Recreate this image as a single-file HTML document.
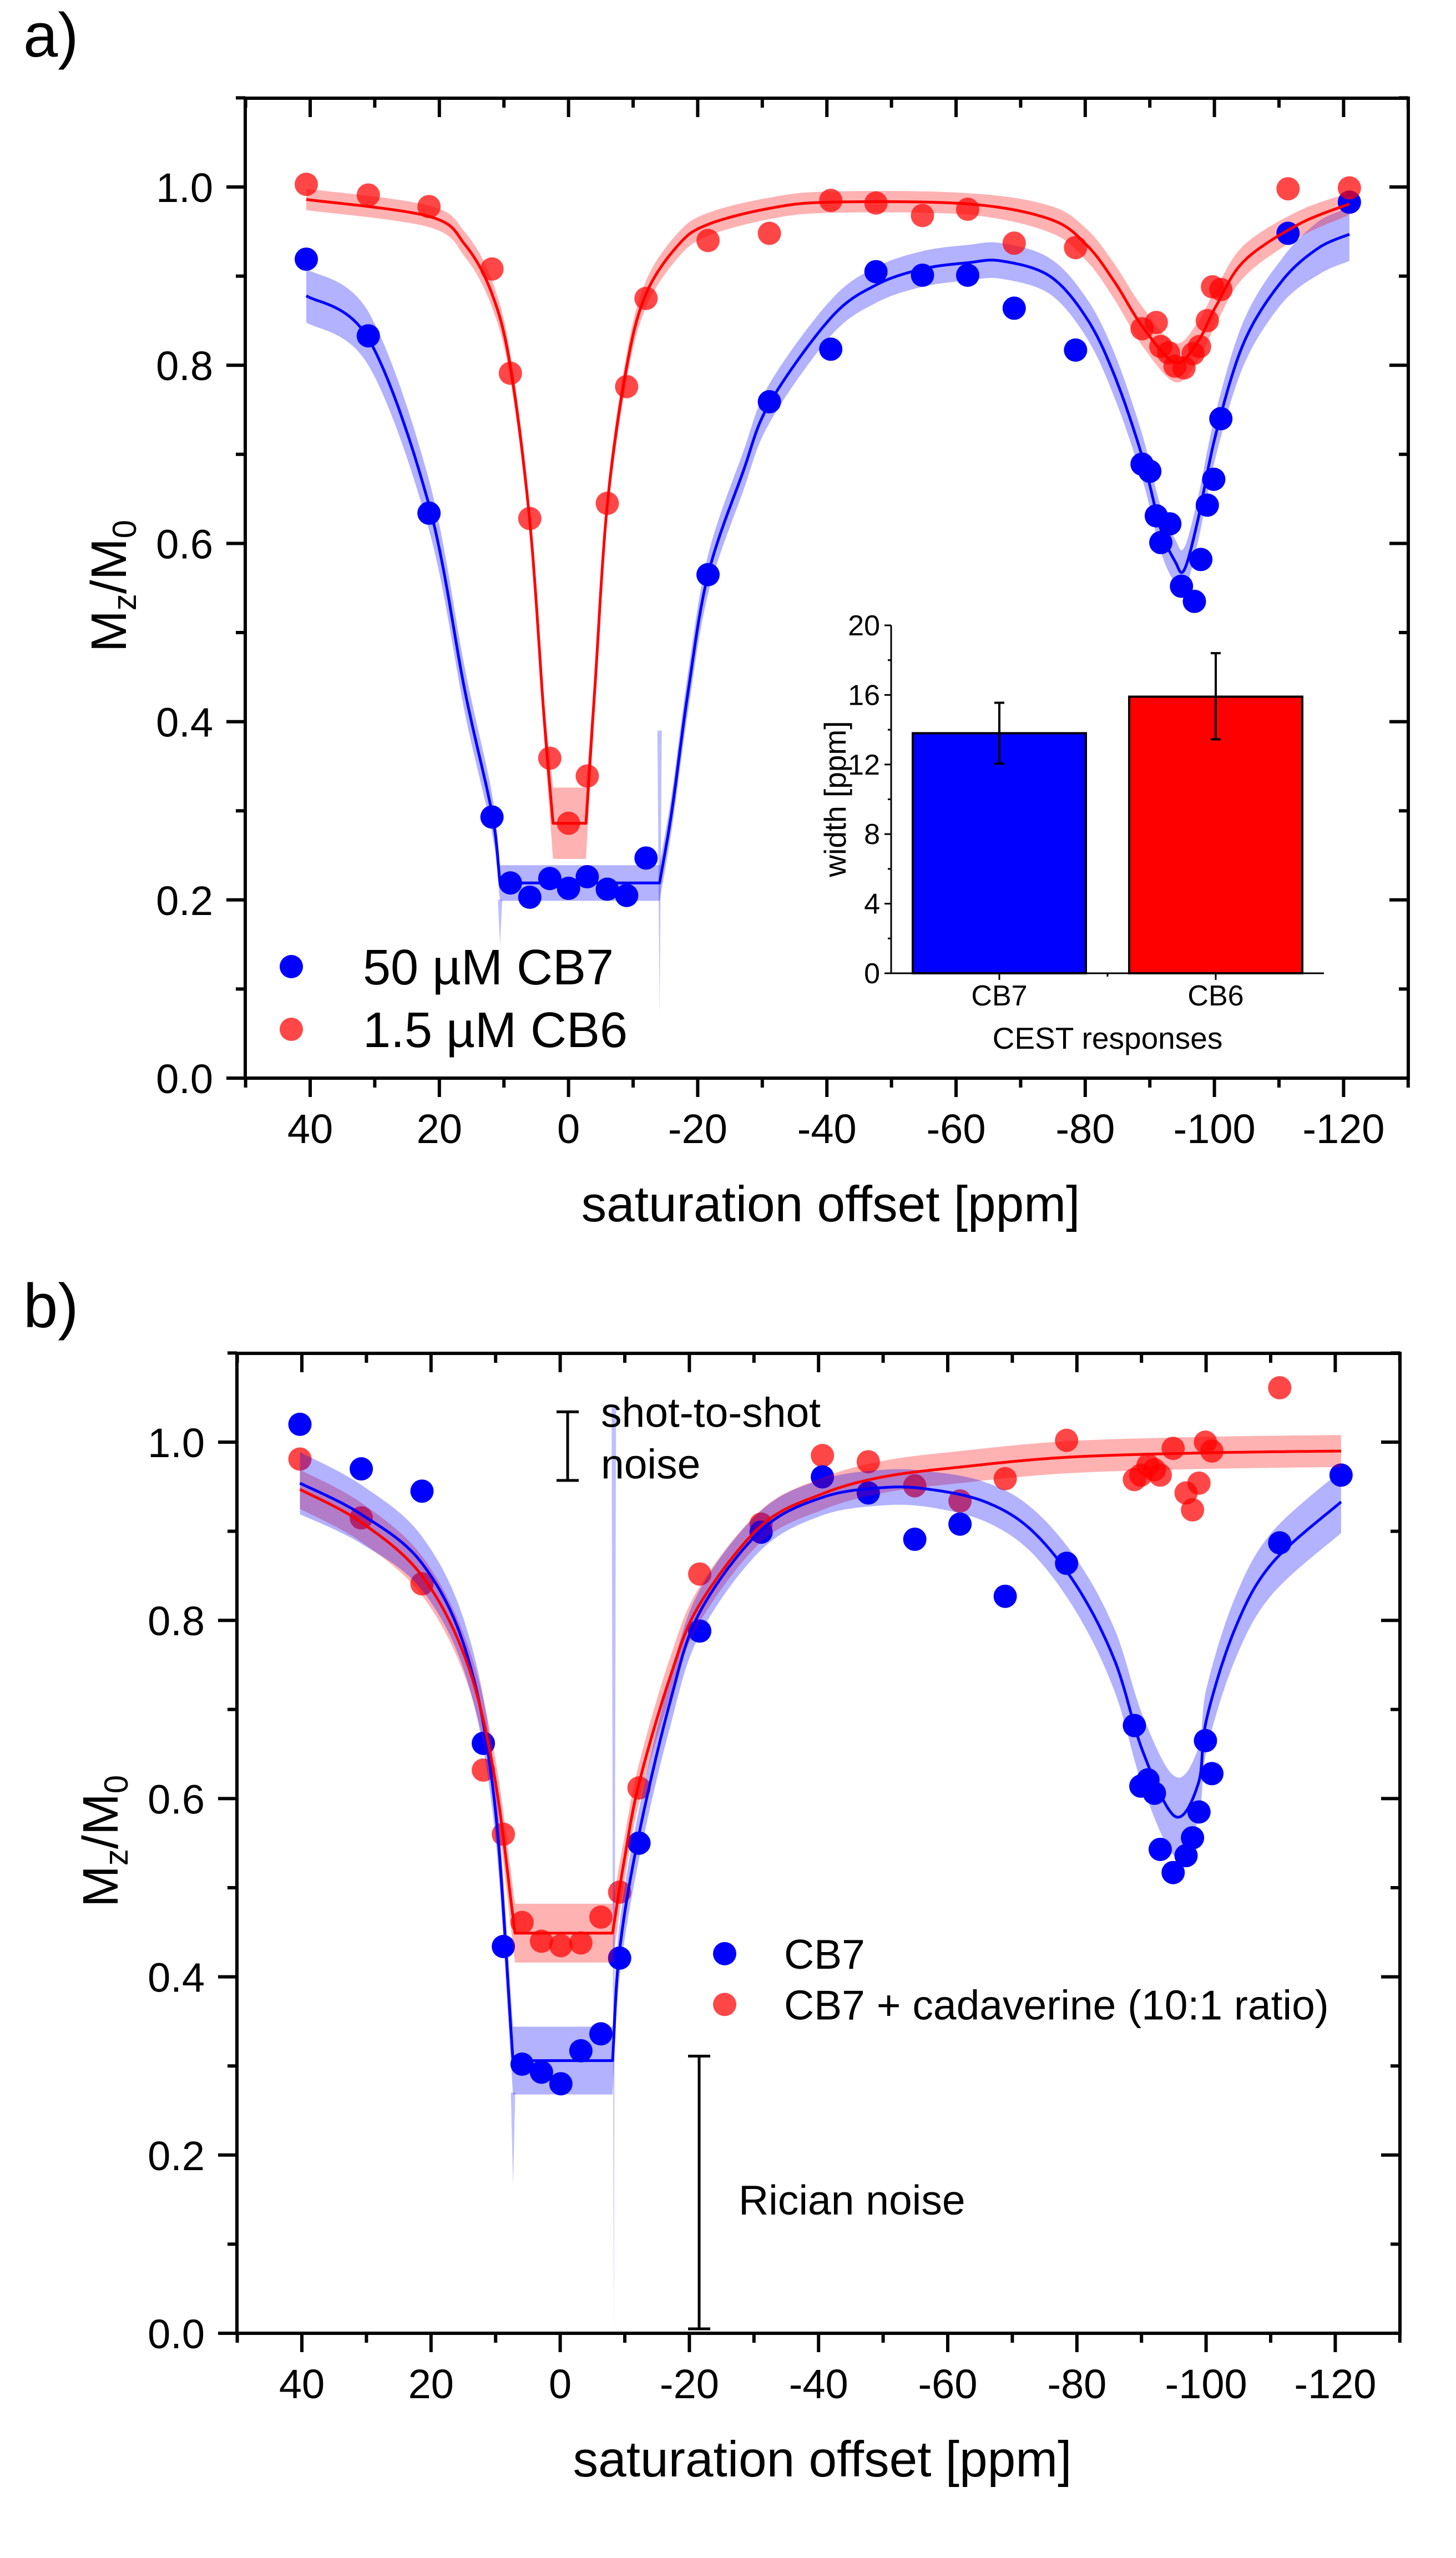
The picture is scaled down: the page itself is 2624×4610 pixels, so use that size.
<!DOCTYPE html>
<html><head><meta charset="utf-8">
<style>
html,body{margin:0;padding:0;background:#fff;}
svg{display:block;font-family:"Liberation Sans",Arial,sans-serif;}
</style></head>
<body>
<svg id="fig" xmlns="http://www.w3.org/2000/svg" width="2624" height="4610" viewBox="0 0 2624 4610">
<rect x="0" y="0" width="2624" height="4610" fill="#fff"/>
<text x="42" y="102" font-size="112">a)</text>
<text x="42" y="2392" font-size="112">b)</text>
</svg>
<script>
// ---------- Panel a data ----------
const aRedX=[40.6,31,21.6,11.85,9,6,2.9,0,-2.9,-6,-9,-12,-21.6,-31.1,-40.6,-47.6,-54.8,-61.8,-69,-78.5,-88.8,-91,-91.7,-92.9,-93.9,-95.3,-96.7,-97.7,-98.9,-99.7,-101,-111.4,-120.9];
const aRedY=[1.003,0.991,0.978,0.908,0.791,0.628,0.359,0.286,0.339,0.645,0.776,0.875,0.94,0.948,0.985,0.982,0.968,0.975,0.937,0.932,0.841,0.848,0.821,0.814,0.799,0.797,0.813,0.821,0.85,0.888,0.885,0.998,0.999];
const aBlueX=[40.6,31,21.6,11.85,9,6,2.9,0,-2.9,-6,-9,-12,-21.6,-31.1,-40.6,-47.6,-54.8,-61.8,-69,-78.5,-88.8,-90,-91,-91.7,-93.1,-94.9,-96.9,-97.9,-98.9,-99.9,-101,-111.4,-120.9];
const aBlueY=[0.919,0.833,0.634,0.293,0.219,0.203,0.224,0.213,0.226,0.212,0.205,0.247,0.565,0.759,0.818,0.905,0.901,0.901,0.864,0.817,0.689,0.681,0.631,0.601,0.622,0.552,0.535,0.582,0.643,0.672,0.74,0.948,0.983];
// fit curves
const aBlueFitX=[40.6,31,21.6,16,11.85,10.6,-14.1,-16,-18.5,-21.6,-27,-31.1,-40.6,-47.6,-54.8,-61.8,-67,-74.5,-80.2,-84.5,-88.8,-91.7,-93.9,-95.3,-97.4,-100.3,-104.6,-110.4,-116,-120.9];
const aBlueFitY=[0.878,0.83,0.643,0.433,0.297,0.219,0.219,0.3,0.433,0.565,0.68,0.757,0.853,0.89,0.908,0.915,0.917,0.9,0.853,0.789,0.698,0.616,0.58,0.57,0.625,0.725,0.826,0.894,0.931,0.947];
const aBlueFitErr=[0.03,0.03,0.028,0.025,0.022,0.02,0.02,0.02,0.022,0.022,0.022,0.022,0.02,0.02,0.02,0.02,0.02,0.02,0.022,0.025,0.025,0.025,0.025,0.025,0.025,0.025,0.025,0.025,0.03,0.03];
const aRedFitX=[40.6,21.6,16,11.85,9,6,3.8,2.4,-2.7,-4.1,-6,-9,-12,-17,-21.6,-31.1,-40.6,-61.8,-74.5,-80.2,-84.5,-88.8,-93.9,-97.4,-100.3,-104.6,-113,-120.9];
const aRedFitY=[0.986,0.967,0.935,0.88,0.798,0.625,0.406,0.286,0.286,0.44,0.643,0.798,0.88,0.935,0.958,0.976,0.983,0.981,0.964,0.935,0.894,0.844,0.803,0.826,0.867,0.917,0.958,0.981];
const aRedFitErr=[0.012,0.012,0.014,0.015,0.015,0.015,0.02,0.04,0.04,0.02,0.015,0.015,0.015,0.014,0.013,0.012,0.012,0.012,0.015,0.018,0.02,0.022,0.022,0.022,0.02,0.018,0.015,0.012];
const aSpikeX=[10.6,-14.1];
const aSpikeTop=[0.2,0.39];
const aSpikeBottom=[0.15,0.07];
// inset
const insetCats=['CB7','CB6'];
const insetVals=[13.8,15.9];
const insetErrLo=[12.05,13.45];
const insetErrHi=[15.55,18.4];
const insetTicks=[0,4,8,12,16,20];

// ---------- Panel b data ----------
const bBlueX=[40.3,30.8,21.4,11.9,8.8,5.9,2.9,-0.1,-3.2,-6.3,-9.2,-12.2,-21.6,-31.1,-40.6,-47.7,-54.9,-61.9,-68.9,-78.4,-88.9,-89.9,-91,-92,-92.9,-94.9,-96.9,-97.9,-98.9,-99.9,-100.9,-111.4,-120.9];
const bBlueY=[1.02,0.97,0.945,0.662,0.434,0.302,0.293,0.28,0.317,0.336,0.421,0.55,0.788,0.899,0.961,0.943,0.891,0.908,0.827,0.864,0.682,0.614,0.621,0.606,0.543,0.517,0.536,0.556,0.585,0.665,0.628,0.887,0.963];
const bRedX=[40.3,30.8,21.4,11.9,8.8,5.9,2.9,-0.1,-3.2,-6.3,-9.2,-12.2,-21.6,-31.1,-40.6,-47.7,-54.9,-61.9,-68.9,-78.4,-88.9,-89.9,-91,-92,-92.9,-94.9,-96.9,-97.9,-98.9,-99.9,-100.9,-111.4];
const bRedY=[0.981,0.915,0.841,0.632,0.56,0.461,0.44,0.435,0.438,0.467,0.495,0.612,0.852,0.908,0.985,0.978,0.951,0.934,0.959,1.002,0.958,0.963,0.974,0.969,0.963,0.993,0.943,0.924,0.954,1.0,0.99,1.061];
const bBlueFitX=[40.3,30.8,21.4,14.5,10.2,7.3,-8.1,-9.2,-12.2,-17,-21.6,-31.1,-40.6,-50,-57.2,-65.8,-73,-80.1,-85.9,-90.2,-95.2,-98.8,-100.1,-104.5,-110.2,-120.9];
const bBlueFitY=[0.954,0.919,0.864,0.763,0.598,0.306,0.306,0.43,0.56,0.708,0.809,0.901,0.938,0.949,0.947,0.933,0.901,0.837,0.754,0.653,0.58,0.617,0.69,0.791,0.864,0.933];
const bBlueFitErr=[0.035,0.033,0.03,0.028,0.03,0.038,0.038,0.03,0.028,0.028,0.025,0.022,0.02,0.02,0.02,0.022,0.025,0.03,0.035,0.04,0.045,0.04,0.035,0.035,0.035,0.035];
const bRedFitX=[40.3,30.8,21.4,14.5,10.2,7.0,-8.1,-9.9,-12.2,-17,-21.6,-31.1,-40.6,-50,-61.9,-78.4,-100.1,-120.9];
const bRedFitY=[0.947,0.91,0.85,0.754,0.626,0.449,0.449,0.53,0.617,0.736,0.818,0.906,0.942,0.961,0.972,0.983,0.988,0.99];
const bRedFitErr=[0.022,0.022,0.022,0.022,0.025,0.033,0.033,0.025,0.022,0.022,0.02,0.018,0.018,0.018,0.018,0.018,0.018,0.018];
const bSpikeX=[7.3,-8.3];
const bSpikeTop=[0.27,1.04];
const bSpikeBottom=[0.167,0.0];

const xMajor=[40,20,0,-20,-40,-60,-80,-100,-120];
const xMinor=[50,30,10,-10,-30,-50,-70,-90,-110,-130];
const yMajor=[0,0.2,0.4,0.6,0.8,1.0];
const yMinor=[0.1,0.3,0.5,0.7,0.9,1.1];

const NS='http://www.w3.org/2000/svg';
const svg=document.getElementById('fig');
function el(tag,attrs,parent){const e=document.createElementNS(NS,tag);for(const k in attrs)e.setAttribute(k,attrs[k]);(parent||svg).appendChild(e);return e;}

function makePanel(P){
  const sx=v=>P.x40+(40-v)*11.64;
  const sy=v=>P.bottom-v*1606;
  P.sx=sx;P.sy=sy;
  const g=el('g',{});
  
  
  return g;
}

function spline(xs,ys,errs,sx,sy){
  const p=xs.map((x,i)=>[sx(x),sy(ys[i])]);
  const isFlat=i=>i>=0&&i<ys.length-1&&Math.abs(ys[i]-ys[i+1])<1e-9;
  const out=[];
  for(let i=0;i<p.length-1;i++){
    const p0=p[i-1]||p[i],p1=p[i],p2=p[i+1],p3=p[i+2]||p[i+1];
    let c1,c2;
    if(isFlat(i)){c1=p1;c2=p2;}
    else{
      c1=isFlat(i-1)?[p1[0]+(p2[0]-p1[0])/3,p1[1]+(p2[1]-p1[1])/3]:[p1[0]+(p2[0]-p0[0])/6,p1[1]+(p2[1]-p0[1])/6];
      c2=isFlat(i+1)?[p2[0]-(p2[0]-p1[0])/3,p2[1]-(p2[1]-p1[1])/3]:[p2[0]-(p3[0]-p1[0])/6,p2[1]-(p3[1]-p1[1])/6];
    }
    const N=24;
    for(let k=(i===0?0:1);k<=N;k++){
      const t=k/N,u=1-t;
      const x=u*u*u*p1[0]+3*u*u*t*c1[0]+3*u*t*t*c2[0]+t*t*t*p2[0];
      const y=u*u*u*p1[1]+3*u*u*t*c1[1]+3*u*t*t*c2[1]+t*t*t*p2[1];
      const e=(errs[i]*(1-t)+errs[i+1]*t)*1606;
      out.push([x,y,e]);
    }
  }
  return out;
}

function drawFit(g,P,xs,ys,errs,color,bandColor,name){
  const pts=spline(xs,ys,errs,P.sx,P.sy);
  const up=pts.map(p=>p[0].toFixed(1)+','+(p[1]-p[2]).toFixed(1));
  const lo=pts.slice().reverse().map(p=>p[0].toFixed(1)+','+(p[1]+p[2]).toFixed(1));
  const band=el('polygon',{points:up.concat(lo).join(' '),fill:bandColor,'fill-opacity':0.3},g);
  
  
  return pts;
}
function drawLine(g,pts,color,name){
  const d='M'+pts.map(p=>p[0].toFixed(1)+','+p[1].toFixed(1)).join(' L');
  const l=el('path',{d:d,fill:'none',stroke:color,'stroke-width':5,'stroke-linejoin':'round'},g);
  
  
}
function drawSpikes(g,P,xs,tops,bots,name){
  xs.forEach((x,i)=>{
    const cx=P.sx(x);
    const s=el('polygon',{points:(cx-4)+','+P.sy(tops[i])+' '+(cx+4)+','+P.sy(tops[i])+' '+cx+','+P.sy(bots[i]),fill:'#0000ff','fill-opacity':0.25},g);
    
    
  });
}
function drawPoints(g,P,xs,ys,color,op,name){
  xs.forEach((x,i)=>{
    const c=el('circle',{cx:P.sx(x),cy:P.sy(ys[i]),r:21,fill:color,'fill-opacity':op},g);
    
    
  });
}
function drawAxes(g,P){
  const fr=el('rect',{x:P.left,y:P.top,width:P.right-P.left,height:P.bottom-P.top,fill:'none',stroke:'#000','stroke-width':6},g);
  
  
  const tk=el('g',{stroke:'#000','stroke-width':6},g);
  
  
  xMajor.forEach(v=>{const x=P.sx(v);
    el('line',{x1:x,y1:P.bottom,x2:x,y2:P.bottom+34},tk);
    el('line',{x1:x,y1:P.top,x2:x,y2:P.top+34},tk);
    const t=el('text',{x:x,y:P.bottom+117,'font-size':74,'text-anchor':'middle'},g);
    t.textContent=String(v);
    
    
  });
  xMinor.forEach(v=>{const x=P.sx(v);
    el('line',{x1:x,y1:P.bottom,x2:x,y2:P.bottom+17},tk);
    el('line',{x1:x,y1:P.top,x2:x,y2:P.top+17},tk);
  });
  yMajor.forEach(v=>{const y=P.sy(v);
    el('line',{x1:P.left-34,y1:y,x2:P.left,y2:y},tk);
    el('line',{x1:P.right-34,y1:y,x2:P.right,y2:y},tk);
    const t=el('text',{x:P.left-58,y:y+27,'font-size':74,'text-anchor':'end'},g);
    t.textContent=v.toFixed(1);
    
    
  });
  yMinor.forEach(v=>{const y=P.sy(v);
    el('line',{x1:P.left-17,y1:y,x2:P.left,y2:y},tk);
    el('line',{x1:P.right-17,y1:y,x2:P.right,y2:y},tk);
  });
  const xt=el('text',{x:(P.left+P.right)/2+7,y:P.bottom+258,'font-size':91,'text-anchor':'middle'},g);
  xt.textContent='saturation offset [ppm]';
  
  
  const cy=P.top+879, cx=P.left-215;
  const yt=el('text',{x:cx,y:cy,'font-size':90,'text-anchor':'middle',transform:'rotate(-90 '+cx+' '+cy+')'},g);
  yt.innerHTML='M<tspan font-size="60" dy="18">z</tspan><tspan dy="-18">/M</tspan><tspan font-size="60" dy="18">0</tspan>';
  
  
}

// ---------- Panel a ----------
const PA={name:'panel-a',left:442,right:2538,top:177,bottom:1943,x40:559};
const ga=makePanel(PA);
const aBluePts=drawFit(ga,PA,aBlueFitX,aBlueFitY,aBlueFitErr,'#0000ff','#0000ff','cb7');
drawSpikes(ga,PA,aSpikeX,aSpikeTop,aSpikeBottom,'cb7');
const aRedPts=drawFit(ga,PA,aRedFitX,aRedFitY,aRedFitErr,'#ff0000','#ff0000','cb6');
drawPoints(ga,PA,aBlueX,aBlueY,'#0000ff',1,'cb7');
drawPoints(ga,PA,aRedX,aRedY,'#ff0000',0.72,'cb6');
drawLine(ga,aBluePts,'#0000ff','cb7');
drawLine(ga,aRedPts,'#ff0000','cb6');
drawAxes(ga,PA);
// legend a
[['50 µM CB7','#0000ff',1,1742],['1.5 µM CB6','#ff0000',0.72,1855]].forEach((L,i)=>{
  const lg=el('g',{},ga);
  
  
  el('circle',{cx:525,cy:L[3],r:21,fill:L[1],'fill-opacity':L[2]},lg);
  const t=el('text',{x:654,y:L[3]+32,'font-size':90},lg);
  t.textContent=L[0];
});
// inset bar chart
const IN={left:1606,right:2386,y0:1754,y20:1127};
const iy=v=>IN.y0-v*(IN.y0-IN.y20)/20;
const ix=i=>IN.left+(IN.right-IN.left)*(0.25+0.5*i);
const gi=el('g',{},ga);


insetVals.forEach((v,i)=>{
  const w=(IN.right-IN.left)*0.4;
  const b=el('rect',{x:ix(i)-w/2,y:iy(v),width:w,height:iy(0)-iy(v),fill:i===0?'#0000ff':'#ff0000',stroke:'#000','stroke-width':4},gi);
  
  
  const e=el('path',{d:'M'+ix(i)+','+iy(insetErrHi[i])+' V'+iy(insetErrLo[i])+' M'+(ix(i)-9)+','+iy(insetErrHi[i])+' h18 M'+(ix(i)-9)+','+iy(insetErrLo[i])+' h18',stroke:'#000','stroke-width':4,fill:'none'},gi);
  
  
  const t=el('text',{x:ix(i),y:1812,'font-size':52,'text-anchor':'middle'},gi);
  t.textContent=insetCats[i];
  
  
  el('line',{x1:ix(i),y1:iy(0),x2:ix(i),y2:iy(0)+12,stroke:'#000','stroke-width':3},gi);
});
const ax=el('path',{d:'M'+IN.left+','+IN.y20+' V'+IN.y0+' H'+IN.right,stroke:'#000','stroke-width':3,fill:'none'},gi);


el('line',{x1:(IN.left+IN.right)/2,y1:IN.y0,x2:(IN.left+IN.right)/2,y2:IN.y0+6,stroke:'#000','stroke-width':3},gi);
insetTicks.forEach(v=>{
  el('line',{x1:IN.left-12,y1:iy(v),x2:IN.left,y2:iy(v),stroke:'#000','stroke-width':3},gi);
  if(v<20) el('line',{x1:IN.left-6,y1:iy(v+2),x2:IN.left,y2:iy(v+2),stroke:'#000','stroke-width':3},gi);
  const t=el('text',{x:IN.left-20,y:iy(v)+18,'font-size':52,'text-anchor':'end'},gi);
  t.textContent=String(v);
  
  
});
const ixt=el('text',{x:(IN.left+IN.right)/2,y:1890,'font-size':55,'text-anchor':'middle'},gi);
ixt.textContent='CEST responses';


const iyt=el('text',{x:1505,y:1440,'font-size':55,'text-anchor':'middle',transform:'rotate(-90 1505 1440)',dy:'19'},gi);
iyt.textContent='width [ppm]';



// ---------- Panel b ----------
const PB={name:'panel-b',left:427,right:2523,top:2439,bottom:4205,x40:544};
const gb=makePanel(PB);
drawPoints(gb,PB,bRedX,bRedY,'#ff0000',0.72,'cb7-cadaverine');
drawPoints(gb,PB,bBlueX,bBlueY,'#0000ff',1,'cb7');
const bRedPts=drawFit(gb,PB,bRedFitX,bRedFitY,bRedFitErr,'#ff0000','#ff0000','cb7-cadaverine');
const bBluePts=drawFit(gb,PB,bBlueFitX,bBlueFitY,bBlueFitErr,'#0000ff','#0000ff','cb7');
drawSpikes(gb,PB,bSpikeX,bSpikeTop,bSpikeBottom,'cb7');
drawLine(gb,bBluePts,'#0000ff','cb7');
drawLine(gb,bRedPts,'#ff0000','cb7-cadaverine');
drawAxes(gb,PB);
// legend b
[['CB7','#0000ff',1,PB.sy(0.426)],['CB7 + cadaverine (10:1 ratio)','#ff0000',0.72,PB.sy(0.369)]].forEach(L=>{
  const lg=el('g',{},gb);
  
  
  el('circle',{cx:1306,cy:L[3],r:21,fill:L[1],'fill-opacity':L[2]},lg);
  const t=el('text',{x:1413,y:L[3]+27,'font-size':75},lg);
  t.textContent=L[0];
});
// annotations
function errAnn(x,v1,v2,name){
  const e=el('path',{d:'M'+x+','+PB.sy(v1)+' V'+PB.sy(v2)+' M'+(x-20)+','+PB.sy(v1)+' h40 M'+(x-20)+','+PB.sy(v2)+' h40',stroke:'#000','stroke-width':5,fill:'none'},gb);
  
  
}
errAnn(1023,1.034,0.957,'shot-noise-bar');
errAnn(1260,0.311,0.005,'rician-noise-bar');
const s1=el('text',{x:1083,y:PB.sy(1.034)+27,'font-size':75},gb);
s1.textContent='shot-to-shot';


const s2=el('text',{x:1083,y:PB.sy(0.976)+27,'font-size':75},gb);
s2.textContent='noise';


const r1=el('text',{x:1331,y:PB.sy(0.15)+27,'font-size':75},gb);
r1.textContent='Rician noise';


</script>
</body></html>
